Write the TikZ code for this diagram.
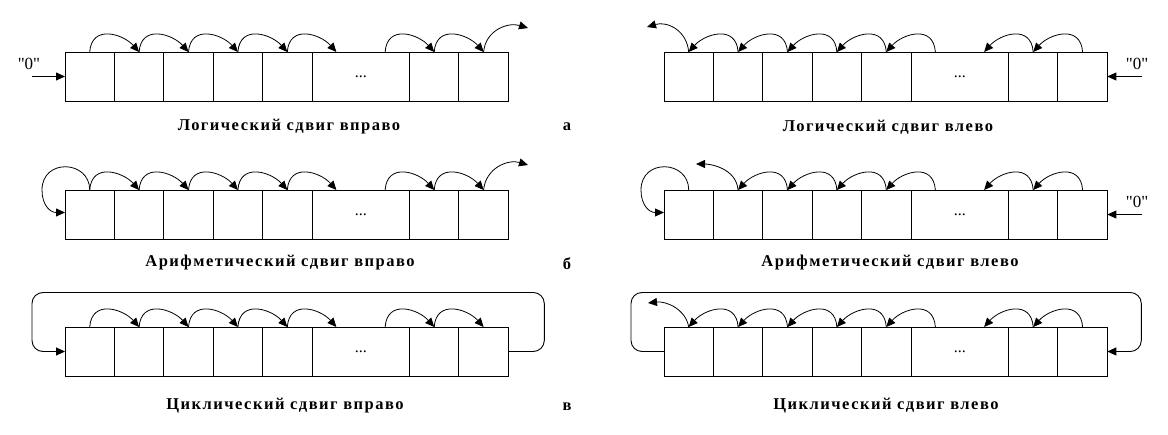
\documentclass[tikz,border=0pt]{standalone}
\usepackage{fontspec}
\setmainfont{Liberation Serif}
\newfontfamily\capfont{Liberation Serif}[LetterSpace=9]
\newfontfamily\zerofont{Liberation Serif}[Ligatures=TeXOff]
\usetikzlibrary{arrows.meta,calc}
\tikzset{
  cell/.style={draw, line width=0.9pt, inner sep=0pt, outer sep=0pt, minimum height=49pt, minimum width=49.4pt, anchor=north west},
  widecell/.style={cell, minimum width=97.5pt, font=\fontsize{16}{16}\selectfont},
  arc/.style={line width=0.8pt, -{Triangle[length=9pt,width=8pt]}},
  loopline/.style={line width=0.9pt, rounded corners=11pt, -{Triangle[length=9pt,width=8pt]}},
  caption/.style={font=\capfont\bfseries\fontsize{16.5}{18}\selectfont, inner sep=0pt},
  zero/.style={font=\zerofont\fontsize{17}{18}\selectfont, inner sep=0pt},
}
\newcommand\register[3]{%
  \node[cell] (#1c1) at (#2,#3) {};
  \node[cell] (#1c2) at (#1c1.north east) {};
  \node[cell] (#1c3) at (#1c2.north east) {};
  \node[cell] (#1c4) at (#1c3.north east) {};
  \node[cell] (#1c5) at (#1c4.north east) {};
  \node[widecell] (#1c6) at (#1c5.north east) {...};
  \node[cell] (#1c7) at (#1c6.north east) {};
  \node[cell] (#1c8) at (#1c7.north east) {};
  \coordinate (#1p1) at (#1c1.north);
  \coordinate (#1p2) at (#1c2.north);
  \coordinate (#1p3) at (#1c3.north);
  \coordinate (#1p4) at (#1c4.north);
  \coordinate (#1p5) at (#1c5.north);
  \coordinate (#1p6) at ($(#1c6.north west)!0.25!(#1c6.north east)$);
  \coordinate (#1p7) at ($(#1c6.north west)!0.75!(#1c6.north east)$);
  \coordinate (#1p8) at (#1c7.north);
  \coordinate (#1p9) at (#1c8.north);
}
\newcommand\arcsright[1]{%
  \foreach \a/\b in {1/2,2/3,3/4,4/5,5/6,7/8,8/9}
    \draw[arc] (#1p\a) .. controls +(2,-28) and +(-16,-18) .. (#1p\b);
}
\newcommand\arcsleft[2]{%
  \foreach \a/\b in {#2}
    \draw[arc] (#1p\a) .. controls +(-2,-28) and +(16,-18) .. (#1p\b);
}
\begin{document}
\begin{tikzpicture}[x=1pt,y=-1pt]
\useasboundingbox (0,0) rectangle (1168,435);
% ---------- row a ----------
\register{A}{65}{52}
\arcsright{A}
\coordinate (Aout) at (528,28);
\draw[arc] (Ap9) .. controls +(2,-22) and +(-20,-6) .. (Aout);
\coordinate (Ain) at (32,76.5);
\draw[arc] (Ain) -- (Ac1.west);
\node[zero] (Az) at (29,64) {"0"};
\node[caption] (Acap) at (289,127) {Логический сдвиг вправо};

\register{B}{664}{52}
\arcsleft{B}{2/1,3/2,4/3,5/4,6/5,8/7,9/8}
\coordinate (Bout) at (647,27);
\draw[arc] (Bp1) .. controls +(-2,-22) and +(20,-6) .. (Bout);
\coordinate (Bin) at (1142,76.5);
\draw[arc] (Bin) -- (Bc8.east);
\node[zero] (Bz) at (1137,64) {"0"};
\node[caption] (Bcap) at (888,127) {Логический сдвиг влево};

\node[caption] (la) at (567,127) {а};

% ---------- row b ----------
\register{C}{65}{190}
\arcsright{C}
\coordinate (Cout) at (528,165);
\draw[arc] (Cp9) .. controls +(2,-22) and +(-20,-6) .. (Cout);
\draw[arc] (Cp1) .. controls +(0,-30) and +(0,-32) .. ($(Cc1.north west)+(-23,0)$)
  .. controls +(0,15) and +(-15,0) .. ([yshift=2pt]Cc1.west);
\node[caption] (Ccap) at (280,263) {Арифметический сдвиг вправо};

\register{D}{664}{190}
\arcsleft{D}{3/2,4/3,5/4,6/5,8/7,9/8}
\coordinate (Dout) at (696,164);
\draw[arc] (Dp2) .. controls +(-2,-22) and +(14,0) .. (Dout);
\draw[arc] (Dp1) .. controls +(0,-30) and +(0,-32) .. ($(Dc1.north west)+(-23,0)$)
  .. controls +(0,15) and +(-15,0) .. ([yshift=2pt]Dc1.west);
\coordinate (Din) at (1142,214.5);
\draw[arc] (Din) -- (Dc8.east);
\node[zero] (Dz) at (1137,202) {"0"};
\node[caption] (Dcap) at (890,263) {Арифметический сдвиг влево};

\node[caption] (lb) at (567,264) {б};

% ---------- row c ----------
\register{E}{65}{327}
\arcsright{E}
\draw[loopline] (Ec8.east) -- ++(36,0) -- ++(0,-59) -- ($(Ec1.west)+(-33,-59)$) -- ++(0,59) -- (Ec1.west);
\node[caption] (Ecap) at (285,406) {Циклический сдвиг вправо};

\register{F}{664}{327}
\arcsleft{F}{2/1,3/2,4/3,5/4,6/5,8/7,9/8}
\coordinate (Fout) at (648,303);
\draw[arc] (Fp1) .. controls +(-3,-18) and +(18,-2) .. (Fout);
\draw[loopline] (Fc1.west) -- ++(-33,0) -- ++(0,-59) -- ($(Fc8.east)+(34,-59)$) -- ++(0,59) -- (Fc8.east);
\node[caption] (Fcap) at (886,406) {Циклический сдвиг влево};

\node[caption] (lc) at (567,407) {в};
\end{tikzpicture}
\end{document}
